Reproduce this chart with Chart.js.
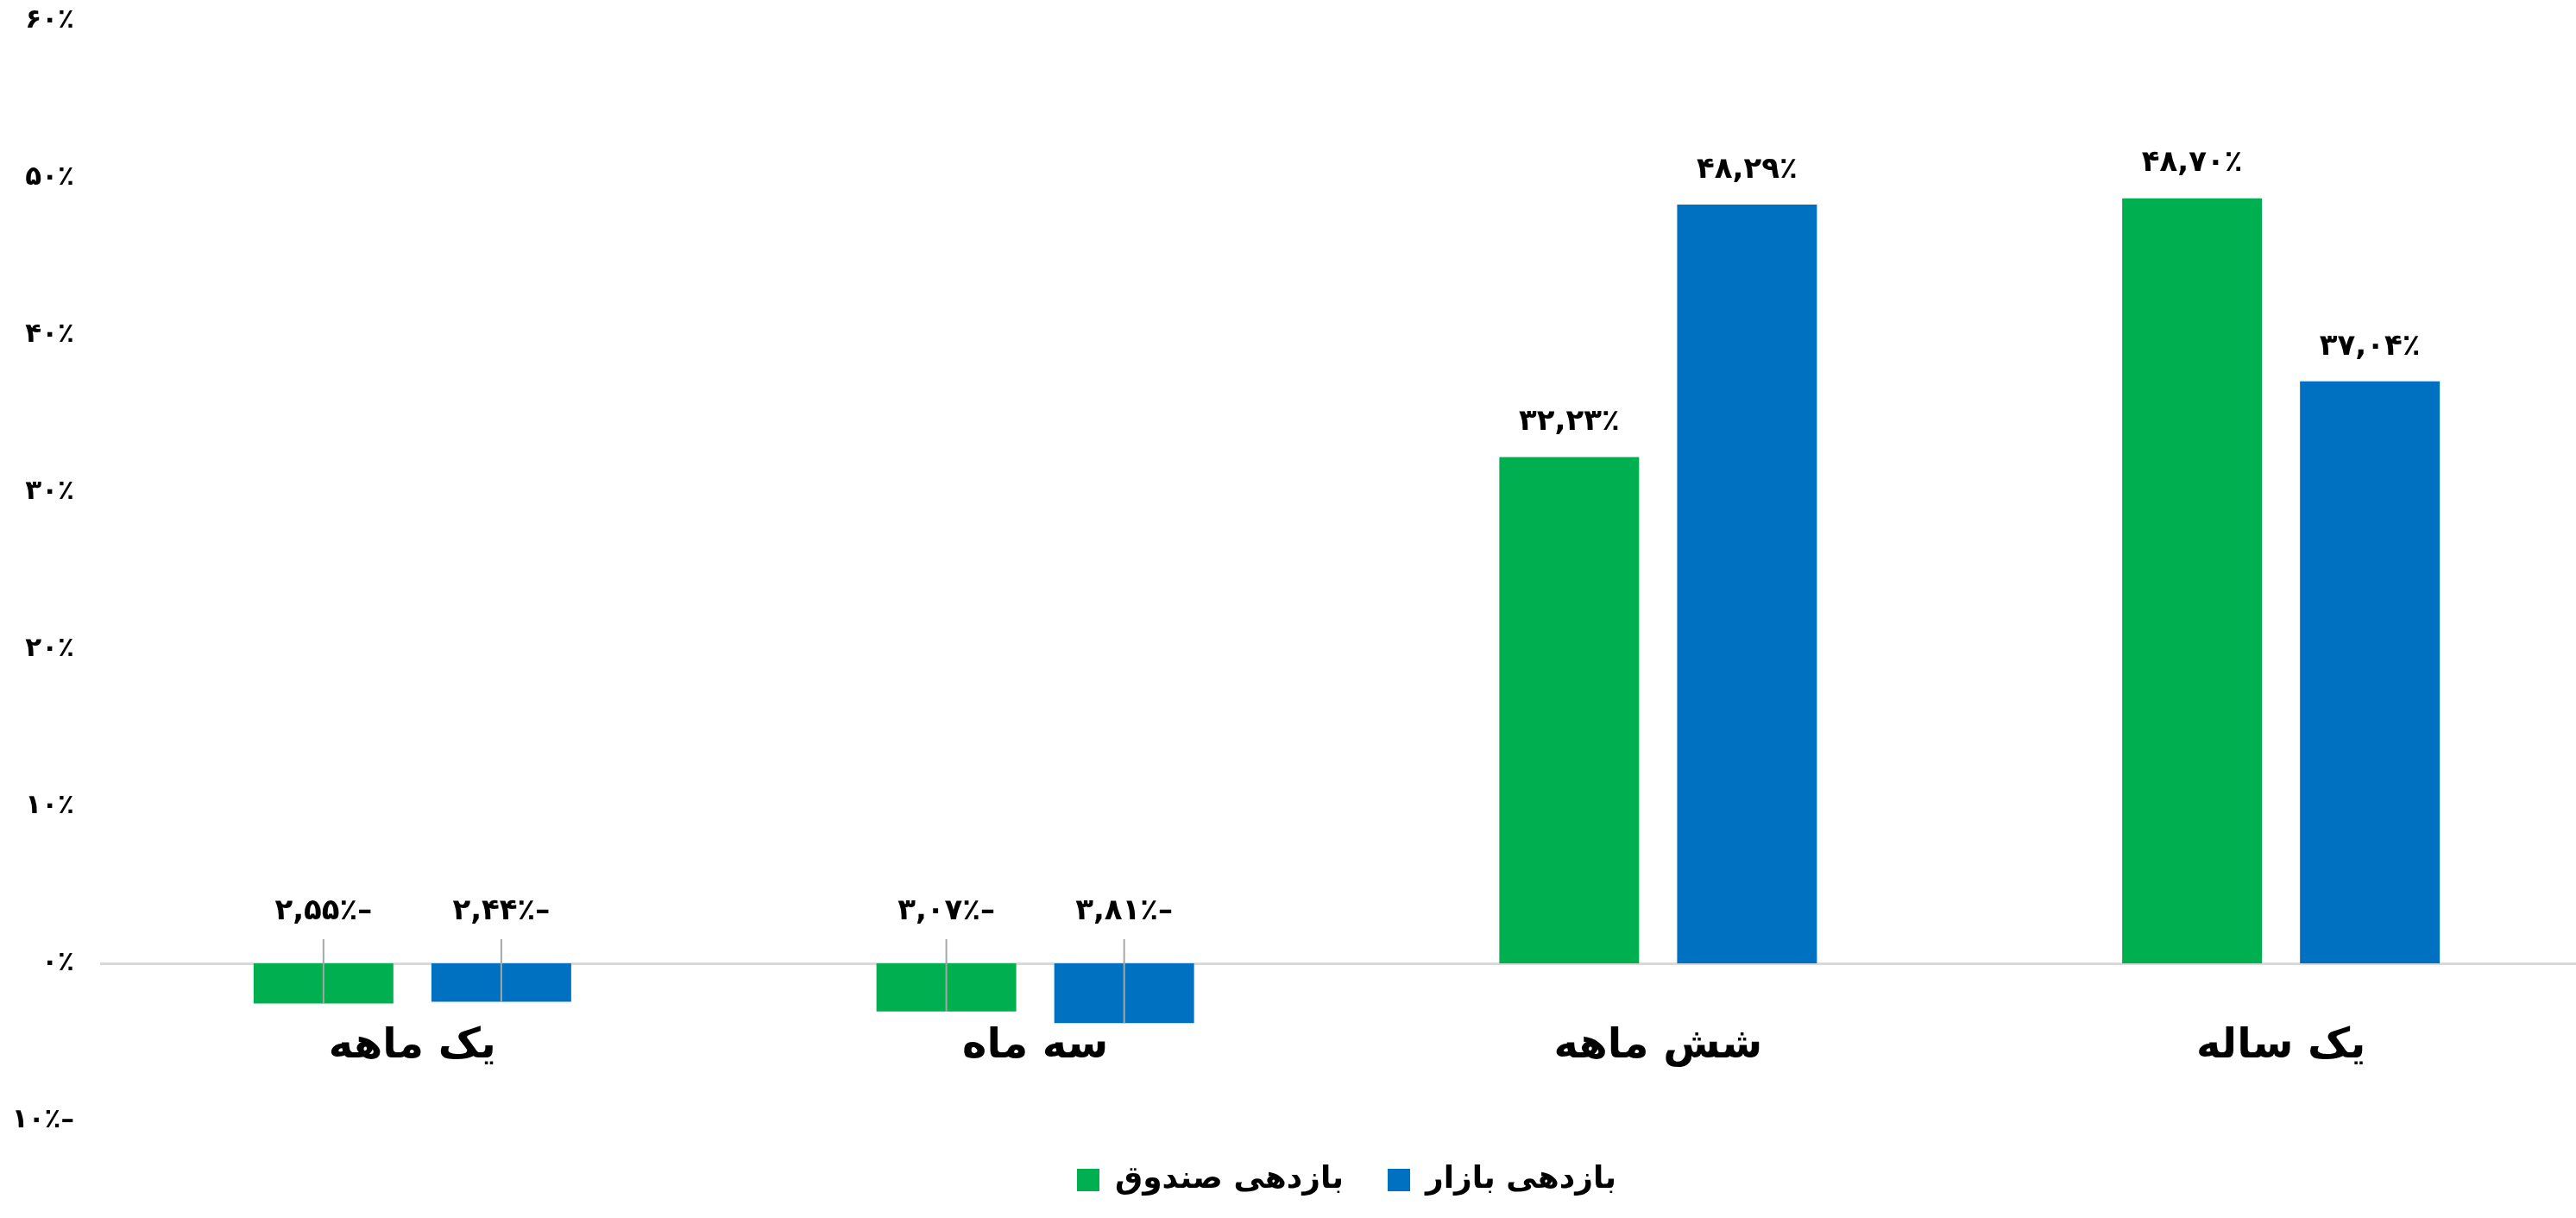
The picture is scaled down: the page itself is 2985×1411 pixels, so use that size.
<!DOCTYPE html>
<html>
<head>
<meta charset="utf-8">
<script src="https://cdn.jsdelivr.net/npm/chart.js@4.4.0/dist/chart.umd.min.js"></script>
<style>
  html, body { margin: 0; padding: 0; background: #fff; overflow: hidden; }
  #wrap { width: 3010px; height: 1411px; }
</style>
</head>
<body>
<div id="wrap"><canvas id="myChart" width="3010" height="1411"></canvas></div>
<script>
// data
const categories = ['یک ماهه', 'سه ماه', 'شش ماهه', 'یک ساله'];
const fundReturns = [-2.55, -3.07, 32.23, 48.70];
const marketReturns = [-2.44, -3.81, 48.29, 37.04];
const seriesNames = ['بازدهی صندوق', 'بازدهی بازار'];
const yTicks = [-10, 0, 10, 20, 30, 40, 50, 60];

const FONT = '"DejaVu Sans", sans-serif';
const faDigits = '۰۱۲۳۴۵۶۷۸۹';

// 12.5 -> "۱۲,۵۰٪" , negatives get the dash on the right like the original
function toFa(v, decimals) {
  let s = Math.abs(v).toFixed(decimals).replace('.', ',');
  s = s.replace(/[0-9]/g, d => faDigits[d]);
  return s + '٪' + (v < 0 ? '–' : '');
}

// value labels + leader lines for the negative bars
const barLabels = {
  id: 'barLabels',
  afterDatasetsDraw(chart) {
    const ctx = chart.ctx;
    const zeroY = chart.scales.y.getPixelForValue(0);
    ctx.save();
    ctx.font = 'bold 34px ' + FONT;
    ctx.textAlign = 'center';
    ctx.textBaseline = 'middle';
    ctx.fillStyle = '#000';
    chart.data.datasets.forEach((ds, i) => {
      chart.getDatasetMeta(i).data.forEach((bar, j) => {
        const v = ds.data[j];
        if (v >= 0) {
          ctx.fillText(toFa(v, 2), bar.x, bar.y - 40);
        } else {
          ctx.strokeStyle = '#a6a6a6';
          ctx.lineWidth = 2;
          ctx.beginPath();
          ctx.moveTo(bar.x, zeroY - 28);
          ctx.lineTo(bar.x, bar.y);
          ctx.stroke();
          ctx.fillText(toFa(v, 2), bar.x, zeroY - 60);
        }
      });
    });
    ctx.restore();
  }
};

const ctx = document.getElementById('myChart');

new Chart(ctx, {
  type: 'bar',
  data: {
    labels: categories,
    datasets: [{
      label: seriesNames[0],
      data: fundReturns,
      backgroundColor: '#00b050',
      borderWidth: 0
    }, {
      label: seriesNames[1],
      data: marketReturns,
      backgroundColor: '#0070c0',
      borderWidth: 0
    }]
  },
  options: {
    responsive: false,
    animation: false,
    categoryPercentage: 0.571,
    barPercentage: 0.786,
    layout: {
      padding: { left: 0, right: 6, top: 24, bottom: 16 }
    },
    plugins: {
      tooltip: { enabled: false },
      legend: {
        position: 'bottom',
        fullSize: false,
        labels: {
          boxWidth: 26,
          boxHeight: 26,
          padding: 51,
          color: '#000',
          font: { family: FONT, size: 36, weight: 'bold' }
        }
      }
    },
    scales: {
      x: {
        position: { y: 0 },
        grid: { display: false, drawTicks: false },
        border: { display: true, color: '#d9d9d9', width: 3 },
        ticks: {
          padding: 68,
          color: '#000',
          font: { family: FONT, size: 48, weight: 'bold' }
        }
      },
      y: {
        min: -10,
        max: 60,
        afterBuildTicks: axis => { axis.ticks = yTicks.map(v => ({ value: v })); },
        afterFit: axis => {
          axis.width = 117;
          axis.paddingTop = 0;
          axis.paddingBottom = 0;
        },
        grid: { display: false, drawTicks: false },
        border: { display: false },
        ticks: {
          padding: 31,
          color: '#000',
          font: { family: FONT, size: 31, weight: 'bold' },
          callback: v => toFa(v, 0)
        }
      }
    }
  },
  plugins: [barLabels]
});
</script>
</body>
</html>
